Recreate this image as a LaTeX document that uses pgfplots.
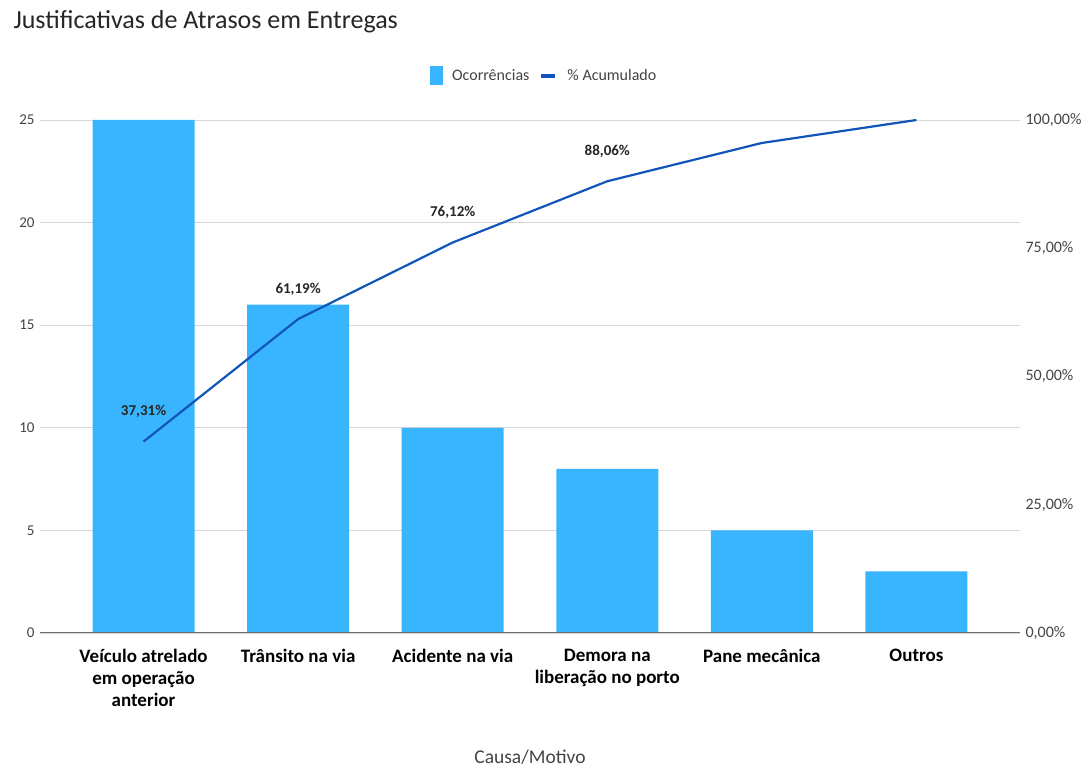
\documentclass[border=0pt]{standalone}
\usepackage{pgfplots}
\pgfplotsset{compat=1.18}
\usepackage{fontspec}
\setmainfont{Carlito}
\definecolor{barc}{RGB}{57,180,255}
\definecolor{linec}{RGB}{17,85,187}
\definecolor{gridc}{RGB}{214,214,214}
\definecolor{txt}{RGB}{68,68,68}
\definecolor{axc}{RGB}{110,110,110}
\begin{document}
\begin{tikzpicture}
\useasboundingbox (-40pt,-134pt) rectangle (1041pt,633pt);
\begin{axis}[
  scale only axis, width=980pt, height=513pt,
  xmin=-0.67, xmax=5.67, ymin=0, ymax=25,
  axis line style={draw=none},
  ytick={0,5,10,15,20,25},
  ymajorgrids, grid style={gridc, line width=0.8pt},
  major tick length=0pt,
  tick style={draw=none},
  /pgf/number format/assume math mode=true,
  yticklabel style={font=\fontsize{15}{18}\selectfont, text=txt, xshift=-2pt},
  xtick={0,1,2,3,4,5},
  xticklabels={{Veículo atrelado\\em operação\\anterior},{Trânsito na via},{Acidente na via},{Demora na\\liberação no porto},{Pane mecânica},{Outros}},
  xticklabel style={font=\fontsize{19}{22}\selectfont\bfseries, text=black, align=center, yshift=-13pt},
  legend style={at={(0.5,1)}, anchor=south, xshift=14pt, yshift=33pt, draw=none, font=\fontsize{16}{19}\selectfont, text=txt, column sep=8pt},
  legend columns=2,
]
\addplot[ybar, bar width=102pt, fill=barc, draw=none, forget plot] coordinates {(0,25) (1,16) (2,10) (3,8) (4,5) (5,3)};
\draw[axc, line width=1.2pt] (axis cs:-0.67,0) -- (axis cs:5.67,0);
\addlegendimage{legend image code/.code={\fill[barc] (0pt,-9pt) rectangle (12pt,9pt);}}
\addlegendentry{Ocorrências\hspace{8pt}}
\addlegendimage{legend image code/.code={\draw[linec, line width=4pt] (0pt,0pt) -- (14pt,0pt);}}
\addlegendentry{\% Acumulado}
\end{axis}
\begin{axis}[
  scale only axis, width=980pt, height=513pt,
  xmin=-0.67, xmax=5.67, ymin=0, ymax=100,
  axis line style={draw=none},
  axis y line*=right,
  hide x axis,
  ytick={0,25,50,75,100},
  yticklabels={{0,00\%},{25,00\%},{50,00\%},{75,00\%},{100,00\%}},
  major tick length=0pt,
  tick style={draw=none},
  yticklabel style={font=\fontsize{16}{19}\selectfont, text=txt, xshift=2pt},
  point meta=explicit symbolic,
  nodes near coords,
  nodes near coords style={font=\fontsize{15}{18}\selectfont\bfseries, text=black!85, anchor=center, yshift=30pt},
]
\addplot[linec, line width=2.2pt, mark=none] coordinates {(0,37.31)[37,31\%] (1,61.19)[61,19\%] (2,76.12)[76,12\%] (3,88.06)[88,06\%] (4,95.52)[] (5,100)[]};
\end{axis}
\node[anchor=west, font=\fontsize{26}{30}\selectfont, text=black!85] at (-30pt,611pt) {Justificativas de Atrasos em Entregas};
\node[font=\fontsize{19.5}{23}\selectfont, text=txt] at (490pt,-124pt) {Causa/Motivo};
\end{tikzpicture}
\end{document}
